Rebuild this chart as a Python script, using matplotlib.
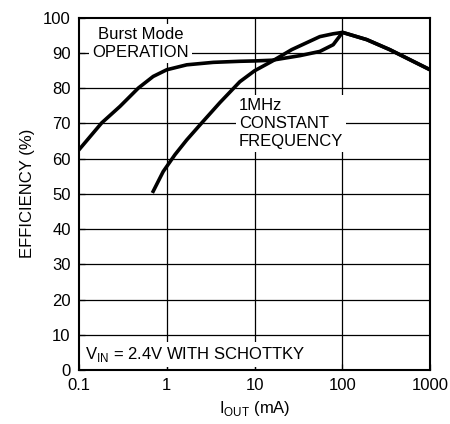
import matplotlib
matplotlib.use("Agg")
import matplotlib.pyplot as plt

# values (I_OUT in mA, efficiency in %)
burst_i = [0.1, 0.181, 0.293, 0.474, 0.70, 1.0, 1.69, 3.39, 6.8, 10, 15.8, 32.9, 55.5, 78.8, 100.7, 190, 348, 1000]
burst_eff = [62.5, 70.1, 74.8, 80.0, 83.3, 85.2, 86.6, 87.3, 87.6, 87.7, 87.9, 89.2, 90.4, 92.3, 95.8, 93.75, 90.9, 85.2]
cf_i = [0.70, 0.91, 1.24, 1.69, 2.5, 4.04, 6.8, 10, 15.8, 26.5, 55.5, 78.6, 100.7, 190, 348, 1000]
cf_eff = [50.7, 56.3, 61.1, 65.3, 70.1, 75.9, 81.8, 84.9, 87.6, 90.9, 94.6, 95.4, 95.8, 93.75, 90.9, 85.2]

xticks = [0.1, 1, 10, 100, 1000]
xticklabels = ["0.1", "1", "10", "100", "1000"]
yticks = list(range(0, 101, 10))

plt.rcParams["font.family"] = ["Liberation Sans", "DejaVu Sans"]
plt.rcParams["mathtext.fontset"] = "custom"
plt.rcParams["mathtext.rm"] = "Liberation Sans"
plt.rcParams["font.size"] = 12

fig = plt.figure(figsize=(4.5, 4.24), dpi=100)
ax = fig.add_axes([0.1756, 0.1274, 0.78, 0.8311])
ax.set_xscale("log")
ax.set_xlim(0.1, 1000)
ax.set_ylim(0, 100)

# grid drawn by hand so the text boxes can sit on top of it
for x in xticks[1:-1]:
    ax.axvline(x, color="black", lw=0.9, zorder=1)
for y in yticks[1:-1]:
    ax.axhline(y, color="black", lw=0.9, zorder=1)

ax.plot(burst_i, burst_eff, color="black", lw=2.6, zorder=3, solid_joinstyle="round")
ax.plot(cf_i, cf_eff, color="black", lw=2.6, zorder=3, solid_joinstyle="round")

box = dict(facecolor="white", edgecolor="none", pad=2)
ax.text(0.5, 92.6, "Burst Mode\nOPERATION", ha="center", va="center",
        linespacing=1.25, bbox=box, zorder=2)
ax.text(6.6, 70, "1MHz\nCONSTANT\nFREQUENCY", ha="left", va="center",
        linespacing=1.25, bbox=box, zorder=2)
ax.text(0.117, 4.3, r"V$_{\mathrm{IN}}$ = 2.4V WITH SCHOTTKY", ha="left", va="center",
        bbox=box, zorder=2)

ax.set_xticks(xticks)
ax.set_xticklabels(xticklabels)
ax.minorticks_off()
ax.set_yticks(yticks)
ax.tick_params(direction="in", length=4, width=0.9, colors="black", pad=6)
for s in ax.spines.values():
    s.set_linewidth(1.5)

ax.set_ylabel("EFFICIENCY (%)", labelpad=6)
ax.set_xlabel(r"I$_{\mathrm{OUT}}$ (mA)", labelpad=4)

fig.savefig("out.png", dpi=100)
